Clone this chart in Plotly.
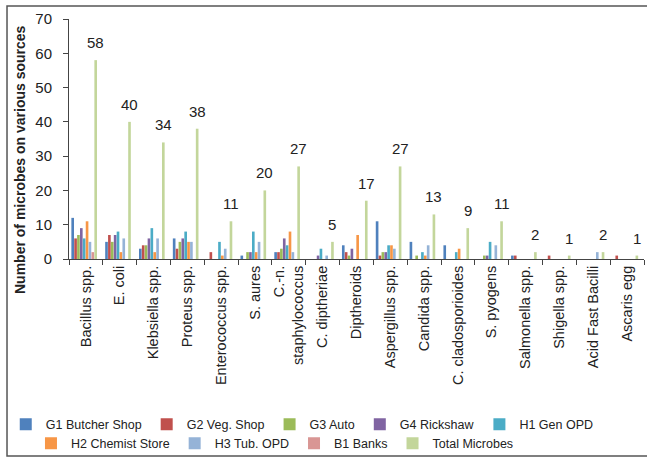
import plotly.graph_objects as go

# Microbe categories (x axis)
categories = [
    "Bacillus spp.", "E. coli", "Klebsiella spp.", "Proteus spp.",
    "Enterococcus spp.", "S. aures", "C.-n.<br>staphylococcus",
    "C. diptheriae", "Diptheroids", "Aspergillus spp.", "Candida spp.",
    "C. cladosporioides", "S. pyogens", "Salmonella spp.", "Shigella spp.",
    "Acid Fast Bacilli", "Ascaris egg",
]

# Counts per sampling source
g1_butcher = [12, 5, 3, 6, 0, 1, 2, 0, 4, 11, 5, 4, 0, 1, 0, 0, 0]
g2_veg = [6, 7, 4, 3, 2, 0, 2, 0, 2, 1, 0, 0, 0, 1, 1, 0, 1]
g3_auto = [7, 5, 4, 5, 0, 2, 3, 0, 1, 2, 1, 0, 1, 0, 0, 0, 0]
g4_rickshaw = [9, 7, 6, 6, 0, 2, 6, 1, 3, 2, 0, 0, 1, 0, 0, 0, 0]
h1_gen_opd = [6, 8, 9, 8, 5, 8, 4, 3, 0, 4, 2, 2, 5, 0, 0, 0, 0]
h2_chemist = [11, 2, 2, 5, 1, 2, 8, 0, 7, 4, 1, 3, 0, 0, 0, 0, 0]
h3_tub_opd = [5, 6, 6, 5, 3, 5, 2, 1, 0, 3, 4, 0, 4, 0, 0, 2, 0]
b1_banks = [2, 0, 0, 0, 0, 0, 0, 0, 0, 0, 0, 0, 0, 0, 0, 0, 0]
total_microbes = [58, 40, 34, 38, 11, 20, 27, 5, 17, 27, 13, 9, 11, 2, 1, 2, 1]

series_names = [
    "G1 Butcher Shop", "G2 Veg. Shop", "G3 Auto", "G4 Rickshaw", "H1 Gen OPD",
    "H2 Chemist Store", "H3 Tub. OPD", "B1 Banks", "Total Microbes",
]
series_values = [
    g1_butcher, g2_veg, g3_auto, g4_rickshaw, h1_gen_opd,
    h2_chemist, h3_tub_opd, b1_banks, total_microbes,
]
series_colors = [
    "#4F81BD", "#C0504D", "#9BBB59", "#8064A2", "#4BACC6",
    "#F79646", "#95B3D7", "#D99694", "#C3D69B",
]

FONT = "Liberation Sans, Arial, sans-serif"
BAR_W = 0.078      # bar width in category units
BAR_PITCH = 0.085  # spacing between neighbouring bars
FIRST_OFF = -0.43  # left edge of first bar relative to category centre

fig = go.Figure()
for i, (name, vals, col) in enumerate(zip(series_names, series_values, series_colors)):
    fig.add_trace(go.Bar(
        x=categories, y=vals, name=name,
        marker=dict(color=col, line=dict(width=0)),
        width=BAR_W, offset=FIRST_OFF + i * BAR_PITCH,
        legend="legend" if i < 5 else "legend2",
    ))

# Value labels above the total bars
total_idx = len(series_names) - 1
total_center = FIRST_OFF + total_idx * BAR_PITCH + BAR_W / 2
for i, v in enumerate(total_microbes):
    fig.add_annotation(
        x=i + total_center, y=v, xref="x", yref="y",
        text=str(v), showarrow=False, yanchor="bottom", yshift=7,
        font=dict(family=FONT, size=15, color="#222"),
    )

# Y axis title
fig.add_annotation(
    x=-0.0852, y=0.4125, xref="paper", yref="paper",
    xanchor="center", yanchor="middle",
    text="<b>Number of microbes on various sources</b>", textangle=-90,
    showarrow=False, font=dict(family=FONT, size=14, color="#222"),
)

# Outer frame
fig.add_shape(
    type="rect", xref="paper", yref="paper",
    x0=-0.1078, x1=1.05, y0=-0.821, y1=1.054,
    line=dict(color="#555", width=1.5), fillcolor="rgba(0,0,0,0)", layer="below",
)

legend_common = dict(
    orientation="h", yanchor="top", itemwidth=30,
    font=dict(size=12.5, color="#222"), bgcolor="rgba(0,0,0,0)",
    traceorder="normal",
)

fig.update_layout(
    width=647, height=458,
    margin=dict(l=69, r=3, t=19, b=199, autoexpand=False),
    barmode="overlay",
    plot_bgcolor="white", paper_bgcolor="white",
    font=dict(family=FONT, color="#222"),
    xaxis=dict(
        type="category", tickson="boundaries", ticks="outside", ticklen=5,
        tickcolor="#444", showline=True, linecolor="#444", linewidth=1,
        tickangle=-90, tickfont=dict(size=14.5, color="#222"),
        showgrid=False, automargin=False, range=[-0.5, 16.5],
    ),
    yaxis=dict(
        range=[0, 70], dtick=10, ticks="outside", ticklen=5,
        tickcolor="#444", showline=True, linecolor="#444", linewidth=1,
        tickfont=dict(size=15, color="#222"), showgrid=False, zeroline=False,
        automargin=False, ticklabelstandoff=8,
    ),
    legend=dict(legend_common, xref="paper", yref="paper",
                x=-0.11, xanchor="left", y=-0.628),
    legend2=dict(legend_common, xref="container", yref="container",
                 x=0.425, xanchor="center", y=0.064),
)

fig.write_html("out.html")
